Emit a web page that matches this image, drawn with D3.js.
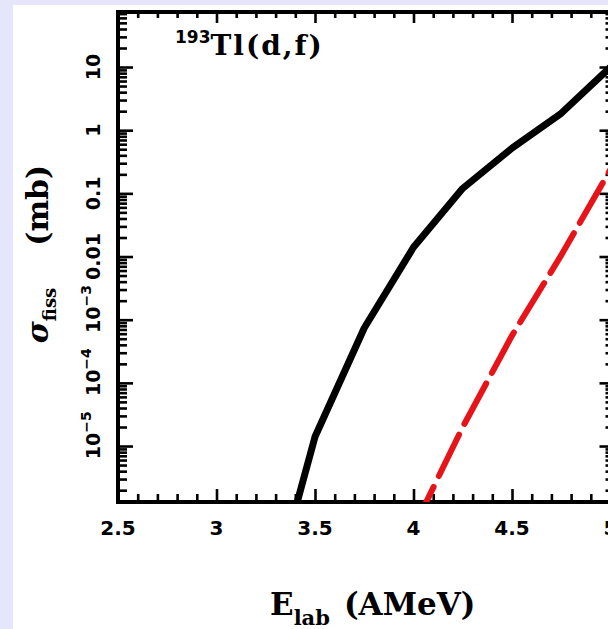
<!DOCTYPE html>
<html>
<head>
<meta charset="utf-8">
<script src="https://cdn.jsdelivr.net/npm/d3@7"></script>
<style>
  body { margin: 0; background: #e6e6fa; }
  svg { display: block; }
</style>
</head>
<body>
<svg id="chart" width="608" height="629"></svg>
<script>
// values
const blackE = [3.4, 3.5, 3.75, 4.0, 4.25, 4.5, 4.75, 5.0];
const blackSigma = [1.0e-6, 1.4e-5, 7.4e-4, 1.4e-2, 1.2e-1, 5.2e-1, 1.85, 10];
const redE = [4.0, 4.25, 4.5, 4.75, 5.0];
const redSigma = [5.0e-7, 2.0e-5, 5.6e-4, 1.05e-2, 0.24];
const xMajor = [2.5, 3, 3.5, 4, 4.5, 5];
const xMajorLabels = ['2.5', '3', '3.5', '4', '4.5', '5'];
const yMajor = [10, 1, 0.1, 0.01, 1e-3, 1e-4, 1e-5];
const yMajorLabels = [['10', ''], ['1', ''], ['0.1', ''], ['0.01', ''], ['10', '\u22123'], ['10', '\u22124'], ['10', '\u22125']];

const svg = d3.select('#chart');
svg.append('rect').attr('x', 13).attr('y', 5).attr('width', 595).attr('height', 624).attr('fill', '#fff');

const L = 118, R = 610.5, T = 12, B = 502;
const x = d3.scaleLinear().domain([2.5, 5]).range([L, R]);
const y = d3.scaleLog().domain([1.3e-6, 74.3]).range([B, T]);

const xMinor = d3.range(25, 51).map((d) => d / 10).filter((d) => !xMajor.includes(d));
const yMinor = [];
for (let k = -6; k <= 1; k++) {
    for (let m = 2; m <= 9; m++) {
        const v = m * Math.pow(10, k);
        if (v > y.domain()[0] && v < y.domain()[1]) yMinor.push(v);
    }
}

function styleAxis(g) {
    g.select('.domain').remove();
    g.selectAll('line').attr('stroke', '#000').attr('stroke-width', 2.6);
    g.selectAll('text').remove();
}

// ticks, all pointing inward
svg.append('g').attr('transform', `translate(0,${B})`)
    .call(d3.axisBottom(x).tickValues(xMinor).tickSize(-8)).call(styleAxis);
svg.append('g').attr('transform', `translate(0,${B})`)
    .call(d3.axisBottom(x).tickValues(xMajor).tickSize(-13)).call(styleAxis);
svg.append('g').attr('transform', `translate(0,${T})`)
    .call(d3.axisTop(x).tickValues(xMinor).tickSize(-6)).call(styleAxis);
svg.append('g').attr('transform', `translate(0,${T})`)
    .call(d3.axisTop(x).tickValues(xMajor).tickSize(-11)).call(styleAxis);
svg.append('g').attr('transform', `translate(${L},0)`)
    .call(d3.axisLeft(y).tickValues(yMinor).tickSize(-9)).call(styleAxis);
svg.append('g').attr('transform', `translate(${L},0)`)
    .call(d3.axisLeft(y).tickValues(yMajor).tickSize(-15)).call(styleAxis);
svg.append('g').attr('transform', `translate(${R},0)`)
    .call(d3.axisRight(y).tickValues(yMinor).tickSize(-5)).call(styleAxis);
svg.append('g').attr('transform', `translate(${R},0)`)
    .call(d3.axisRight(y).tickValues(yMajor).tickSize(-11)).call(styleAxis);

// frame
svg.append('rect').attr('x', L).attr('y', T).attr('width', R - L).attr('height', B - T)
    .attr('fill', 'none').attr('stroke', '#000').attr('stroke-width', 4);

// curves
svg.append('clipPath').attr('id', 'plot')
    .append('rect').attr('x', L).attr('y', T).attr('width', R - L).attr('height', B - T);
const line = d3.line().x((d) => x(d[0])).y((d) => y(d[1]));
const plot = svg.append('g').attr('clip-path', 'url(#plot)');
plot.append('path').datum(d3.zip(blackE, blackSigma))
    .attr('d', line).attr('fill', 'none').attr('stroke', '#000')
    .attr('stroke-width', 7).attr('stroke-linejoin', 'round');
plot.append('path').datum(d3.zip(redE, redSigma))
    .attr('d', line).attr('fill', 'none').attr('stroke', 'rgb(230,20,24)')
    .attr('stroke-width', 6).attr('stroke-dasharray', '46,12')
    .attr('stroke-linecap', 'round');

// x tick labels
svg.append('g').selectAll('text').data(xMajor).join('text')
    .attr('x', (d) => x(d)).attr('y', 535)
    .attr('text-anchor', 'middle')
    .style('font', 'bold 20px "DejaVu Sans"')
    .text((d, i) => xMajorLabels[i]);

// y tick labels, rotated
yMajor.forEach((v, i) => {
    const g = svg.append('g').attr('transform', `translate(100,${y(v)}) rotate(-90)`);
    const base = g.append('text').attr('text-anchor', 'middle')
        .style('font', 'bold 19px "DejaVu Sans"').text(yMajorLabels[i][0]);
    if (yMajorLabels[i][1]) {
        const w = base.node().getComputedTextLength();
        g.append('text').attr('x', w / 2).attr('y', -9)
            .style('font', 'bold 14px "DejaVu Sans"').text(yMajorLabels[i][1]);
    }
});

// title
const title = svg.append('text').attr('x', 175).attr('y', 55);
title.append('tspan').attr('dy', -12).style('font', 'bold 17px "DejaVu Sans"').text('193');
title.append('tspan').attr('dy', 12).style('font', 'bold 28px "DejaVu Serif"')
    .style('letter-spacing', '2px').text('Tl(d,f)');

// x axis title
const xt = svg.append('text').attr('x', 270).attr('y', 615).style('font', 'bold 31px "DejaVu Serif"');
xt.append('tspan').text('E');
xt.append('tspan').attr('dy', 10).style('font-size', '21px').text('lab');
xt.append('tspan').attr('dy', -10).attr('dx', 14).text('(AMeV)');

// y axis title
const yt = svg.append('text').attr('transform', 'translate(48,254) rotate(-90)')
    .attr('text-anchor', 'middle').style('font', 'bold 30px "DejaVu Serif"');
yt.append('tspan').style('font-style', 'italic').text('\u03c3');
yt.append('tspan').attr('dy', 8).style('font-size', '18px').text('fiss');
yt.append('tspan').attr('dy', -8).attr('dx', 42).text('(mb)');
</script>
</body>
</html>
